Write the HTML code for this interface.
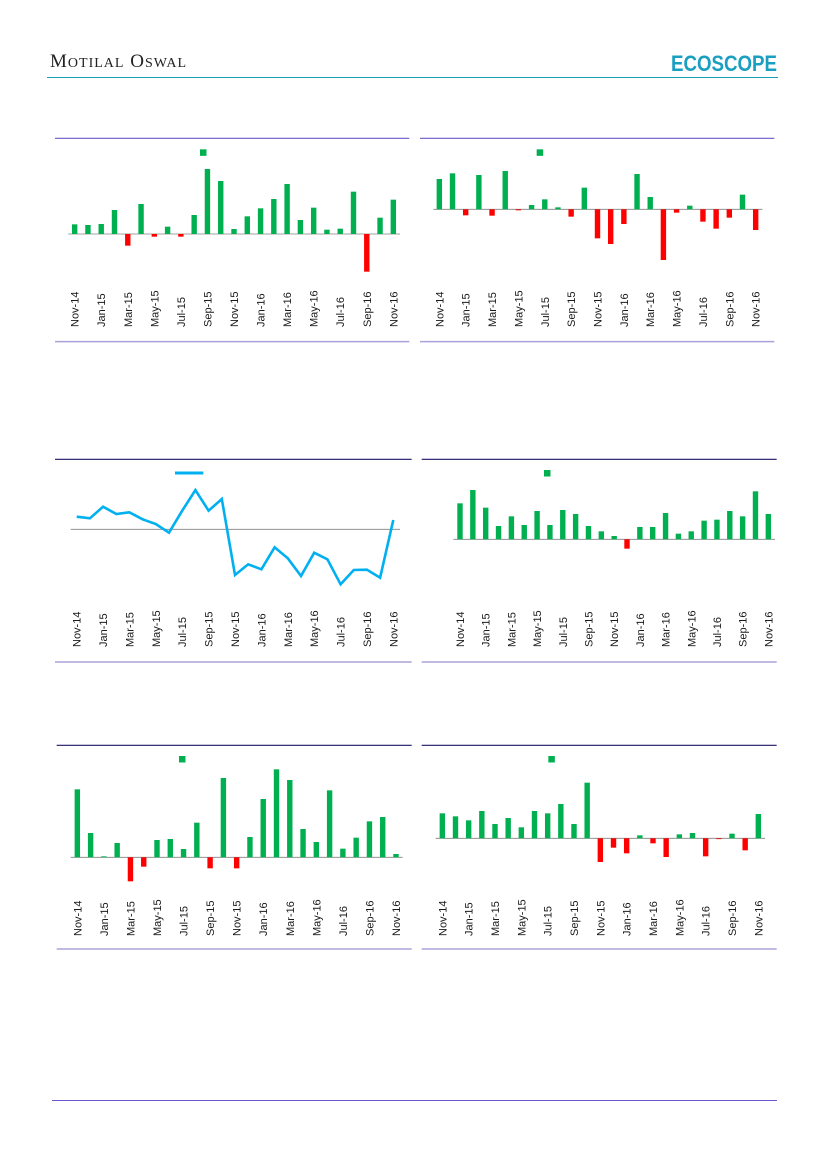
<!DOCTYPE html>
<html><head><meta charset="utf-8"><style>
html,body{margin:0;padding:0;background:#fff;}
svg{display:block;}
</style></head><body>
<svg id="s" width="827" height="1169" viewBox="0 0 827 1169" xmlns="http://www.w3.org/2000/svg" font-family="Liberation Sans, sans-serif">
<text x="50" y="67" font-family="Liberation Serif, serif" font-size="19" fill="#222" letter-spacing="1">M<tspan font-size="14">OTILAL</tspan> O<tspan font-size="14">SWAL</tspan></text>
<text x="671" y="71" font-size="22" font-weight="bold" fill="#1a9fc0" textLength="106" lengthAdjust="spacingAndGlyphs">ECOSCOPE</text>
<line x1="47" y1="77.5" x2="778" y2="77.5" stroke="#1a9fb5" stroke-width="1"/>
<line x1="52" y1="1100.5" x2="777" y2="1100.5" stroke="#6a5acd" stroke-width="1"/>
</svg>
<script>
var s=document.getElementById('s'),NS='http://www.w3.org/2000/svg';
function el(t,a,txt){var e=document.createElementNS(NS,t);for(var k in a)e.setAttribute(k,a[k]);if(txt)e.textContent=txt;s.appendChild(e);return e;}
var labs=['Nov-14','Jan-15','Mar-15','May-15','Jul-15','Sep-15','Nov-15','Jan-16','Mar-16','May-16','Jul-16','Sep-16','Nov-16'];
var charts=[
{ox:50,oy:130,z:312,x0:74,x1:1030,zl:[55,1050],top:25,bot:635,fl:[15,1078],tc:'#6a5acd',leg:[450,58],lb:327,
v:[283,285,282,240,347,222,320,290,320,255,117,153,297,259,235,207,162,270,233,299,296,185,425,263,209]},
{ox:415,oy:130,z:238,x0:73,x1:1022,zl:[55,1042],top:25,bot:635,fl:[15,1078],tc:'#6a5acd',leg:[365,58],lb:327,
v:[147,130,256,135,257,123,241,225,208,232,260,173,325,342,282,132,201,390,248,227,275,296,263,194,300]},
{ox:50,oy:450,z:238,x0:80,x1:1030,zl:[62,1050],top:28,bot:636,fl:[15,1085],tc:'#1c1464',line:1,lb:647,
v:[200,205,170,192,187,208,222,248,182,120,182,147,375,343,358,292,325,378,308,328,403,360,359,383,210]},
{ox:415,oy:450,z:268,x0:135,x1:1060,zl:[115,1080],top:28,bot:636,fl:[20,1085],tc:'#1c1464',leg:[387,60],lb:647,
v:[160,120,173,228,199,225,183,225,180,192,228,244,258,296,231,231,189,251,244,212,209,183,199,124,192]},
{ox:50,oy:740,z:352,x0:82,x1:1038,zl:[62,1058],top:16,bot:627,fl:[20,1085],tc:'#1c1464',leg:[387,48],lb:936,
v:[148,279,349,309,424,380,300,297,327,248,385,114,385,291,177,88,120,267,306,151,326,293,244,231,342]},
{ox:415,oy:740,z:295,x0:82,x1:1030,zl:[62,1050],top:16,bot:627,fl:[20,1085],tc:'#1c1464',leg:[400,48],lb:936,
v:[220,229,241,213,252,234,262,213,220,192,252,128,366,323,340,286,310,351,283,279,349,297,281,331,222]}
];
charts.forEach(function(c){
 var X=function(zx){return c.ox+zx/3;},Y=function(zy){return c.oy+zy/3;};
 el('line',{x1:X(c.fl[0]),x2:X(c.fl[1]),y1:Y(c.top),y2:Y(c.top),stroke:c.tc,'stroke-width':1.2});
 el('line',{x1:X(c.fl[0]),x2:X(c.fl[1]),y1:Y(c.bot),y2:Y(c.bot),stroke:'#a9a3d9','stroke-width':1.5});
 var st=(c.x1-c.x0)/24, zy=Y(c.z);
 el('line',{x1:X(c.zl[0]),x2:X(c.zl[1]),y1:zy,y2:zy,stroke:'#808080','stroke-width':0.8});
 if(c.line){
  var p=c.v.map(function(v,i){return X(c.x0+i*st).toFixed(1)+','+Y(v).toFixed(1);}).join(' ');
  el('polyline',{points:p,fill:'none',stroke:'#00b0f0','stroke-width':2.6,'stroke-linejoin':'miter'});
  el('line',{x1:X(375),x2:X(460),y1:Y(69),y2:Y(69),stroke:'#00b0f0','stroke-width':3});
 } else {
  c.v.forEach(function(v,i){
   var cx=X(c.x0+i*st),y=Y(v),neg=y>zy;
   el('rect',{x:cx-2.7,y:Math.min(y,zy),width:5.4,height:Math.max(Math.abs(y-zy),0.8),fill:neg?'#ff0000':'#00b050'});
  });
  el('rect',{x:X(c.leg[0]),y:Y(c.leg[1]),width:6.5,height:6.5,fill:'#00b050'});
 }
 labs.forEach(function(l,j){
  var cx=X(c.x0+2*j*st)+4;
  el('text',{x:0,y:0,transform:'translate('+cx.toFixed(1)+','+c.lb+') rotate(-90)','font-size':'11','fill':'#1a1a1a'},l);
 });
});
</script>
</body></html>
